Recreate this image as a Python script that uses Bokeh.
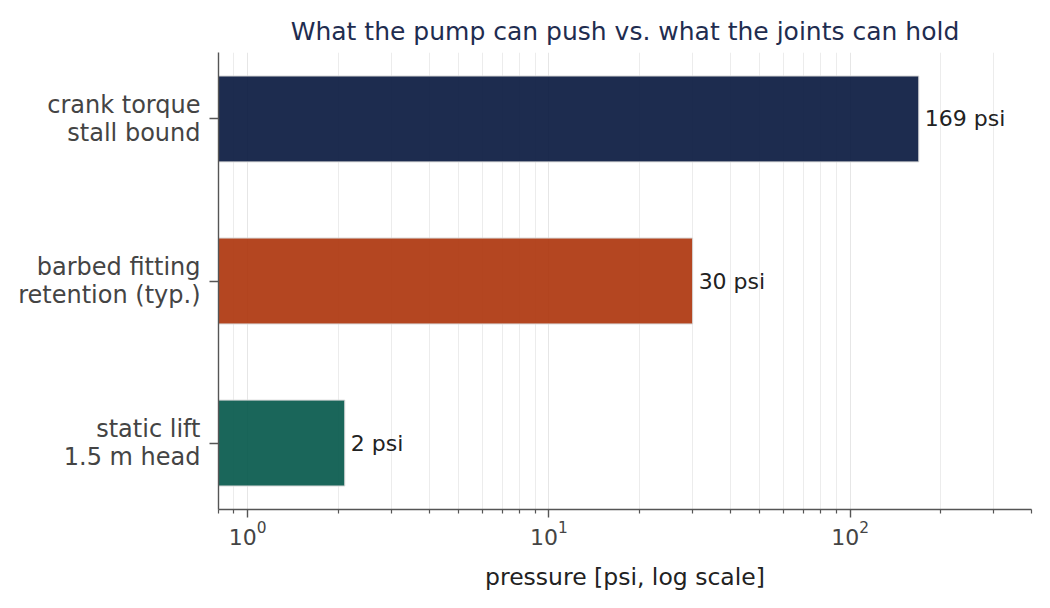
from bokeh.plotting import figure
from bokeh.models import ColumnDataSource, FixedTicker, Range1d, LabelSet
from bokeh.core.properties import value
from bokeh.embed import file_html
from bokeh.resources import INLINE

categories = ["static lift\n1.5 m head", "barbed fitting\nretention (typ.)", "crank torque\nstall bound"]
values = [2.1, 30.0, 169.0]
value_labels = ["2 psi", "30 psi", "169 psi"]
colors = ["#06594c", "#ae360e", "#0a1a40"]
positions = [0, 1, 2]
major_ticks = [1, 10, 100]
minor_ticks = [0.8, 0.9, 2, 3, 4, 5, 6, 7, 8, 9, 20, 30, 40, 50, 60, 70, 80, 90, 200, 300, 400]
x_min, x_max = 0.8, 400

FONT = "DejaVu Sans"

src = ColumnDataSource(dict(y=positions, right=values, left=[x_min] * 3, color=colors, label=value_labels))

p = figure(width=1042, height=600, x_axis_type="log", output_backend="svg", toolbar_location=None,
           x_range=Range1d(x_min, x_max), y_range=Range1d(-0.41, 2.41),
           title="What the pump can push vs. what the joints can hold",
           min_border_left=218, min_border_right=11, min_border_top=52, min_border_bottom=91)

p.hbar(y="y", left="left", right="right", height=0.53, color="color", fill_alpha=0.92,
       line_color="#d8d8d8", line_width=1, source=src)

labels = LabelSet(x="right", y="y", text="label", source=src, x_offset=6, text_baseline="middle",
                  text_font=value(FONT), text_font_size=value("22px"), text_color="#222222")
p.add_layout(labels)

p.title.align = "center"
p.title.text_font = FONT
p.title.text_font_size = "25px"
p.title.text_font_style = "normal"
p.title.text_color = "#1f2d50"
p.title.standoff = 14

p.outline_line_color = None

xa = p.xaxis[0]
xa.ticker = FixedTicker(ticks=major_ticks, minor_ticks=minor_ticks)
xa.axis_label = "pressure [psi, log scale]"
xa.axis_label_text_font = FONT
xa.axis_label_text_font_size = "23.5px"
xa.axis_label_text_font_style = "normal"
xa.axis_label_text_color = "#222222"
xa.axis_label_standoff = 15
xa.major_label_text_font = FONT
xa.major_label_text_font_size = "22px"
xa.major_label_text_color = "#444444"
xa.major_label_standoff = 3
xa.axis_line_color = "#555555"
xa.axis_line_width = 1.4
xa.major_tick_line_color = "#555555"
xa.major_tick_line_width = 1.4
xa.minor_tick_line_color = "#555555"
xa.minor_tick_line_width = 1.2
xa.major_tick_out = 8
xa.major_tick_in = 0
xa.minor_tick_out = 4
xa.minor_tick_in = 0

ya = p.yaxis[0]
ya.ticker = FixedTicker(ticks=positions)
ya.major_label_overrides = {i: c for i, c in zip(positions, categories)}
ya.major_label_text_font = FONT
ya.major_label_text_font_size = "24px"
ya.major_label_text_line_height = 1.0
ya.major_label_text_color = "#444444"
ya.major_label_standoff = 9
ya.axis_line_color = "#555555"
ya.axis_line_width = 1.4
ya.major_tick_line_color = "#555555"
ya.major_tick_line_width = 1.4
ya.major_tick_out = 9
ya.major_tick_in = 0
ya.minor_tick_line_color = None

p.xgrid.grid_line_color = "#e6e6e6"
p.xgrid.grid_line_width = 1
p.xgrid.minor_grid_line_color = "#ececec"
p.xgrid.minor_grid_line_width = 1
p.ygrid.grid_line_color = None

open("out.html", "w").write(file_html(p, INLINE))
